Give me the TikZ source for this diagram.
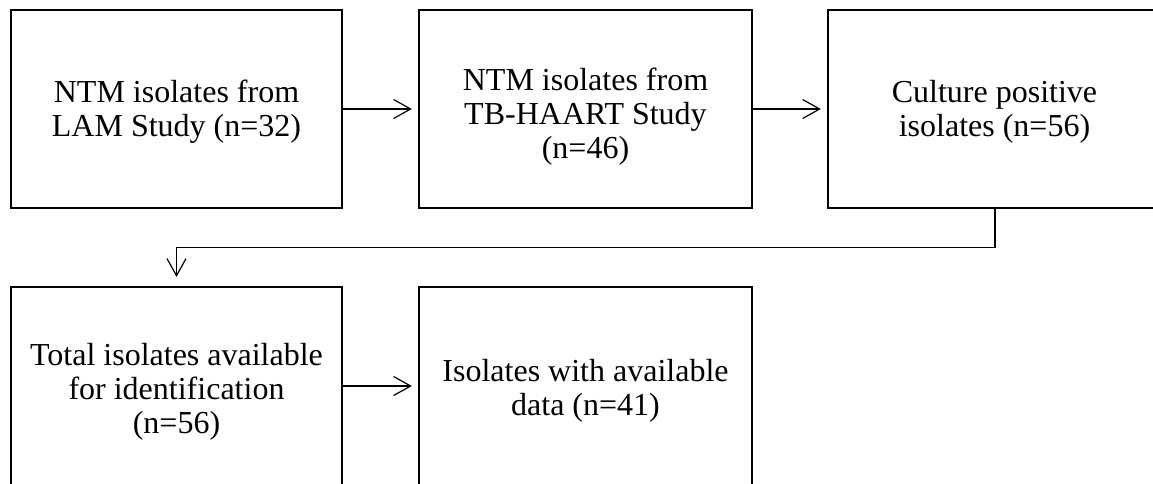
\documentclass[tikz,border=0pt]{standalone}
\usepackage{fontspec}
\setmainfont{Liberation Serif}
\usetikzlibrary{arrows.meta}
\begin{document}
\begin{tikzpicture}[x=1pt,y=-1pt,
  box/.style={draw,line width=2.3pt,inner sep=0pt,minimum height=198pt},
  txt/.style={align=center,inner sep=0pt,font=\fontsize{32}{34}\selectfont},
  conn/.style={line width=1.2pt,-{Straight Barb[length=17pt,width=19pt,line width=1.2pt]}}]
\useasboundingbox (0,0) rectangle (1153,483);
\node[box,minimum width=331pt] (b1) at (176.5,109) {};
\node[box,minimum width=333pt] (b2) at (585.5,109) {};
\node[box,minimum width=337pt] (b3) at (996.5,109) {};
\node[box,minimum width=331pt] (b4) at (176.5,386) {};
\node[box,minimum width=333pt] (b5) at (585.5,386) {};
\node[txt] (t1) at ([yshift=-3pt]b1.center) {NTM isolates from\\LAM Study (n=32)};
\node[txt] (t2) at ([yshift=-8pt]b2.center) {NTM isolates from\\TB-HAART Study\\(n=46)};
\node[txt] (t3) at ([xshift=-2pt,yshift=-3pt]b3.center) {Culture positive\\isolates (n=56)};
\node[txt] (t4) at ([yshift=-6pt]b4.center) {Total isolates available\\for identification\\(n=56)};
\node[txt] (t5) at ([yshift=-5pt]b5.center) {Isolates with available\\data (n=41)};
\draw[conn,shorten >=6pt] (b1.east) -- (b2.west);
\draw[conn,shorten >=6pt] (b2.east) -- (b3.west);
\draw[conn,shorten >=9pt] ([xshift=-1.5pt]b3.south) -- ++(0,38) -| (b4.north);
\draw[conn,shorten >=6pt] (b4.east) -- (b5.west);
\end{tikzpicture}
\end{document}
